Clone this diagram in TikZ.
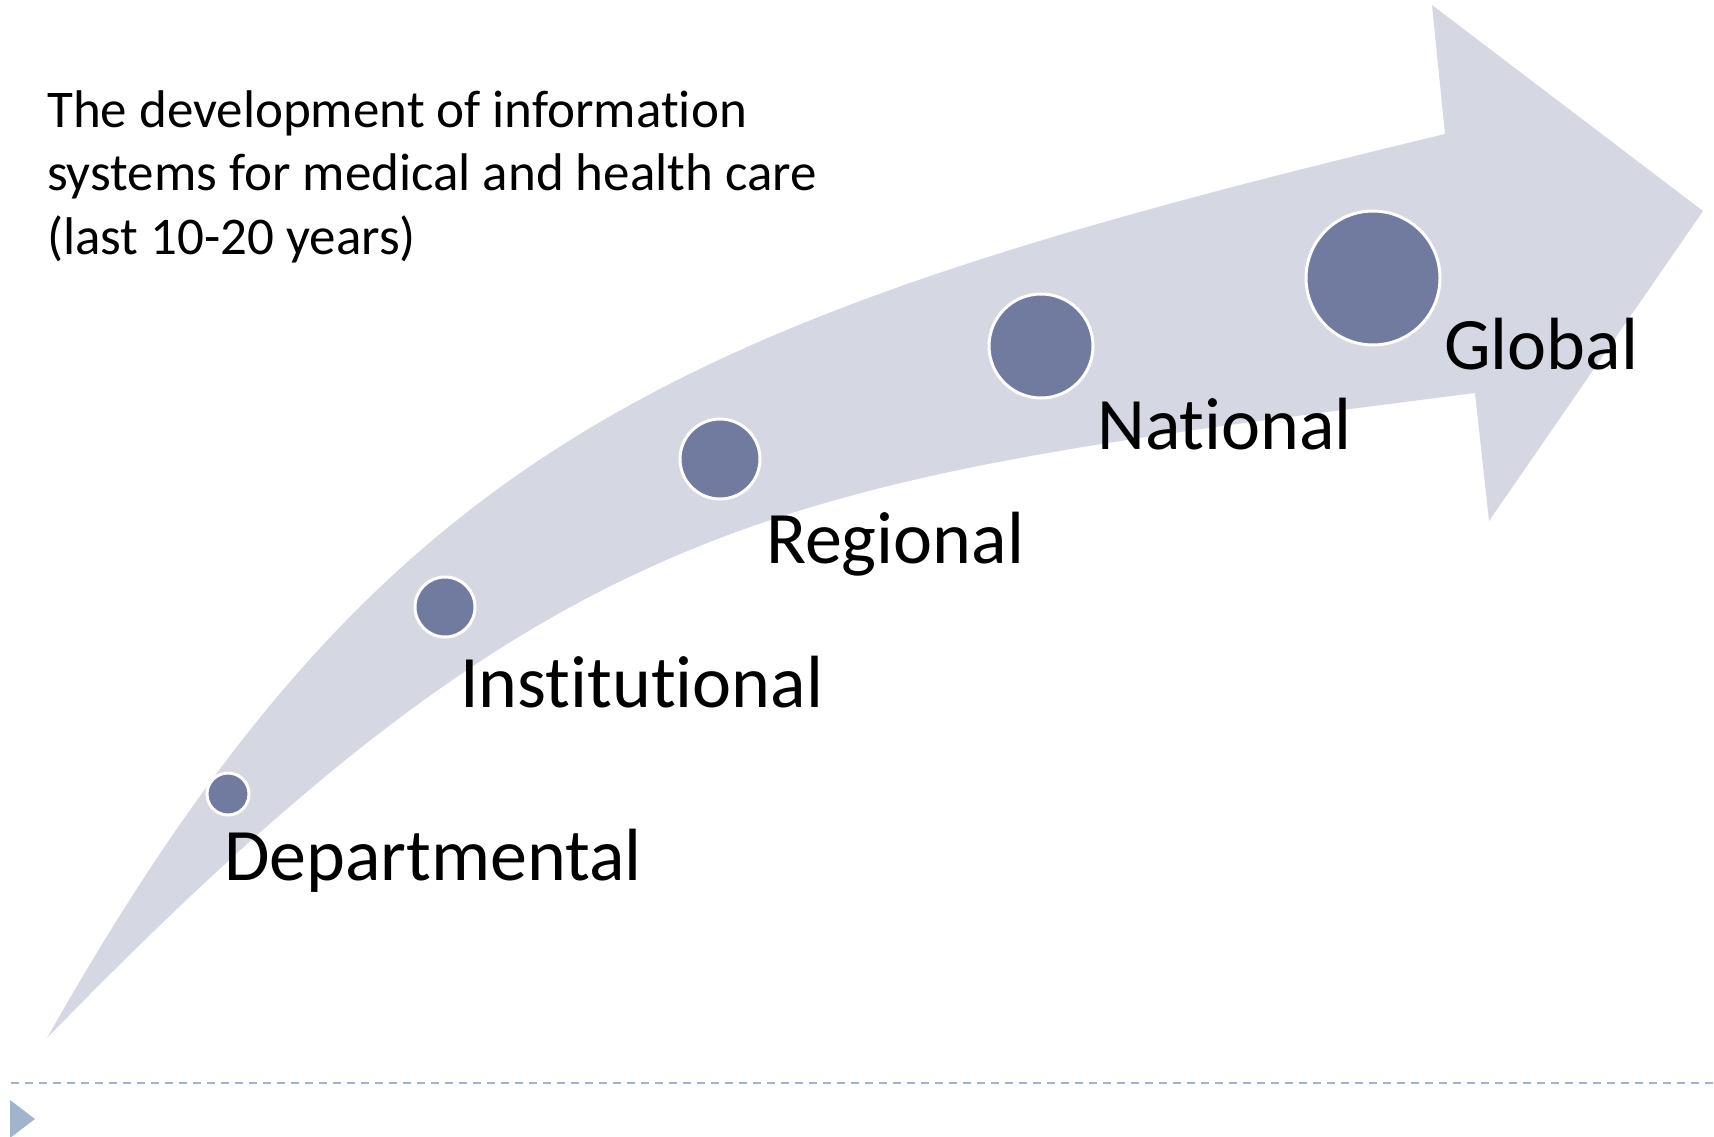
\documentclass[tikz,border=0pt]{standalone}
\usepackage{fontspec}
\setmainfont{Carlito}[Ligatures=NoCommon,Contextuals=NoAlternate]
\definecolor{bandgray}{HTML}{D5D8E2}
\definecolor{dotblue}{HTML}{717BA0}
\definecolor{bulletblue}{HTML}{A0B5CC}
\begin{document}
\begin{tikzpicture}[x=1pt,y=-1pt,
    dot/.style={circle,fill=dotblue,draw=white,line width=3pt,inner sep=0pt},
    stage/.style={anchor=base west,inner sep=0pt,font=\fontsize{74}{80}\selectfont}]
\useasboundingbox (0,0) rectangle (1714,1137);

\fill[bandgray] (47,1038) .. controls (382,446) and (667,321) .. (1445,134)
    -- (1432,5) -- (1703,211) -- (1489,521) -- (1475,393)
    .. controls (781,482) and (570,500) .. (47,1038) -- cycle;

\node (title) [anchor=north west,inner sep=0pt,align=left,
    font=\fontsize{53}{63.5}\selectfont] at (47,90)
    {The development of information\\systems for medical and health care\\(last 10-20 years)};

\node (d1) [dot,minimum size=42pt] at (228,794) {};
\node (d2) [dot,minimum size=60pt] at (445,607) {};
\node (d3) [dot,minimum size=80pt] at (720,459) {};
\node (d4) [dot,minimum size=104pt] at (1041,346) {};
\node (d5) [dot,minimum size=134pt] at (1373,278) {};

\node (dep) [stage] at (224,880) {Departmental};
\node (inst) [stage] at (460,707) {Institutional};
\node (reg) [stage] at (766,563) {Regional};
\node (nat) [stage] at (1097,449) {National};
\node (glob) [stage] at (1444,369) {Global};

\draw[bulletblue,line width=2pt,dash pattern=on 8pt off 6pt] (11,1083) -- (1714,1083);
\fill[bulletblue] (10,1100) -- (35,1119) -- (10,1138) -- cycle;
\end{tikzpicture}
\end{document}
